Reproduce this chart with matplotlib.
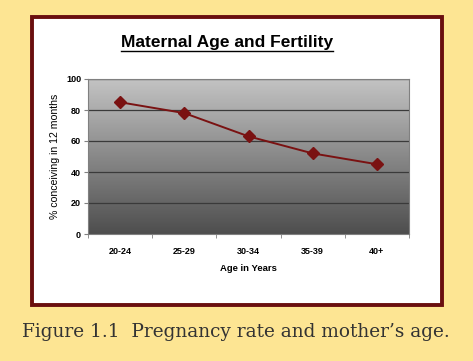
import numpy as np
import matplotlib.pyplot as plt
from matplotlib.patches import Rectangle
from matplotlib.colors import LinearSegmentedColormap

age_groups = ["20-24", "25-29", "30-34", "35-39", "40+"]
pct_conceiving = [85, 78, 63, 52, 45]
y_ticks = [0, 20, 40, 60, 80, 100]

W, H = 473, 361
fig = plt.figure(figsize=(W / 100, H / 100), dpi=100)
fig.patch.set_facecolor("#FDE593")

# framed white panel
fig.patches.append(Rectangle((32 / W, 1 - 305 / H), 410 / W, 288 / H,
                             transform=fig.transFigure, facecolor="white",
                             edgecolor="#6A0F0F", linewidth=2.8, zorder=-5))

ax = fig.add_axes([88 / W, 1 - 234 / H, 321 / W, 155 / H])
ax.set_zorder(2)
ax.set_xlim(-0.5, len(age_groups) - 0.5)
ax.set_ylim(0, 100)

# gray gradient background
grad = np.linspace(0, 1, 256).reshape(-1, 1)
cmap = LinearSegmentedColormap.from_list("g", ["#4E4E4E", "#C3C3C3"])
ax.imshow(grad, aspect="auto", cmap=cmap, origin="lower",
          extent=[-0.5, len(age_groups) - 0.5, 0, 100], zorder=0)

for yv in y_ticks[1:]:
    ax.axhline(yv, color="#3A3A3A", linewidth=0.9, zorder=1)

x = np.arange(len(age_groups))
ax.plot(x, pct_conceiving, color="#7A1212", linewidth=1.4, marker="D",
        markersize=6, markerfacecolor="#7A1212", markeredgecolor="#7A1212", zorder=3)

ax.set_yticks(y_ticks)
ax.set_yticklabels([str(v) for v in y_ticks], fontsize=6.5, fontweight="bold",
                   family="Liberation Sans")
ax.set_xticks(x)
ax.set_xticklabels(age_groups, fontsize=6.5, fontweight="bold", family="Liberation Sans")
ax.set_xticks(np.arange(len(age_groups) + 1) - 0.5, minor=True)
ax.tick_params(axis="x", which="major", length=0, pad=9)
ax.tick_params(axis="x", which="minor", length=3, color="#808080", direction="out")
ax.tick_params(axis="y", length=3, color="#808080", direction="out", pad=2)

for s in ax.spines.values():
    s.set_color("#808080")
    s.set_linewidth(0.8)

ax.set_xlabel("Age in Years", fontsize=6.8, fontweight="bold",
              family="Liberation Sans", labelpad=6)
ax.set_ylabel("% conceiving in 12 months", fontsize=7.6,
              family="Liberation Sans", labelpad=4)

fig.text(227 / W, 1 - 43 / H, "Maternal Age and Fertility", ha="center", va="center",
         fontsize=12.5, fontweight="bold", family="Liberation Sans")
# underline of title
fig.add_artist(plt.Line2D([121 / W, 333 / W], [1 - 51 / H, 1 - 51 / H],
                          transform=fig.transFigure, color="black", linewidth=1))

fig.text(236 / W, 1 - 332 / H, "Figure 1.1  Pregnancy rate and mother\u2019s age.",
         ha="center", va="center", fontsize=13.3, family="DejaVu Serif",
         color="#333333")

fig.savefig("out.png", dpi=100, facecolor=fig.get_facecolor())
